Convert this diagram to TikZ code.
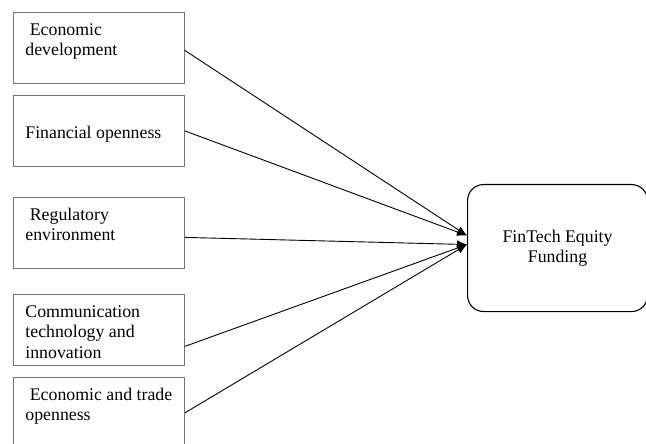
\documentclass[tikz,border=0pt]{standalone}
\usepackage{fontspec}
\setmainfont{Liberation Serif}
\usetikzlibrary{arrows.meta}
% text of a factor box, set from the top left
\newcommand{\factortext}[1]{\parbox[c][71bp][t]{171bp}{\raggedright\leftskip=12bp
  \rule{0pt}{23bp}#1}}
\begin{document}
\begin{tikzpicture}[x=1bp,y=-1bp,
    every node/.style={font=\fontsize{17.8bp}{20.5bp}\selectfont},
    factor/.style={draw=black!55, line width=0.8bp, rectangle, inner sep=0pt,
      minimum width=171bp, minimum height=71bp, anchor=north west},
    outcome/.style={draw, line width=1.1bp, rounded corners=16bp, inner sep=0pt,
      minimum width=180bp, minimum height=127bp, anchor=north west, align=center},
    link/.style={-{Latex[length=10bp,width=8bp]}, line width=0.9bp}
  ]
  \clip (0,0) rectangle (646,444);

  \node[factor] (econ) at (13,12) {\factortext{\ Economic\\development}};
  \node[factor] (fin) at (13,95) {\factortext{\\Financial openness}};
  \node[factor] (reg) at (13,197) {\factortext{\ Regulatory\\environment}};
  \node[factor] (comm) at (13,294) {\factortext{Communication\\technology and\\innovation}};
  \node[factor] (trade) at (13,377) {\factortext{\ Economic and trade\\openness}};

  \node[outcome] (fund) at (467,184) {FinTech Equity\\Funding};

  \draw[link] ([yshift=-2.5bp]econ.east) -- ([yshift=12.5bp]fund.west);
  \draw[link] (fin.east) -- ([yshift=12.5bp]fund.west);
  \draw[link] ([yshift=-4.5bp]reg.east) -- ([yshift=3.5bp]fund.west);
  \draw[link] ([yshift=-16.5bp]comm.east) -- ([yshift=3.5bp]fund.west);
  \draw[link] (trade.east) -- ([yshift=3.5bp]fund.west);
\end{tikzpicture}
\end{document}
